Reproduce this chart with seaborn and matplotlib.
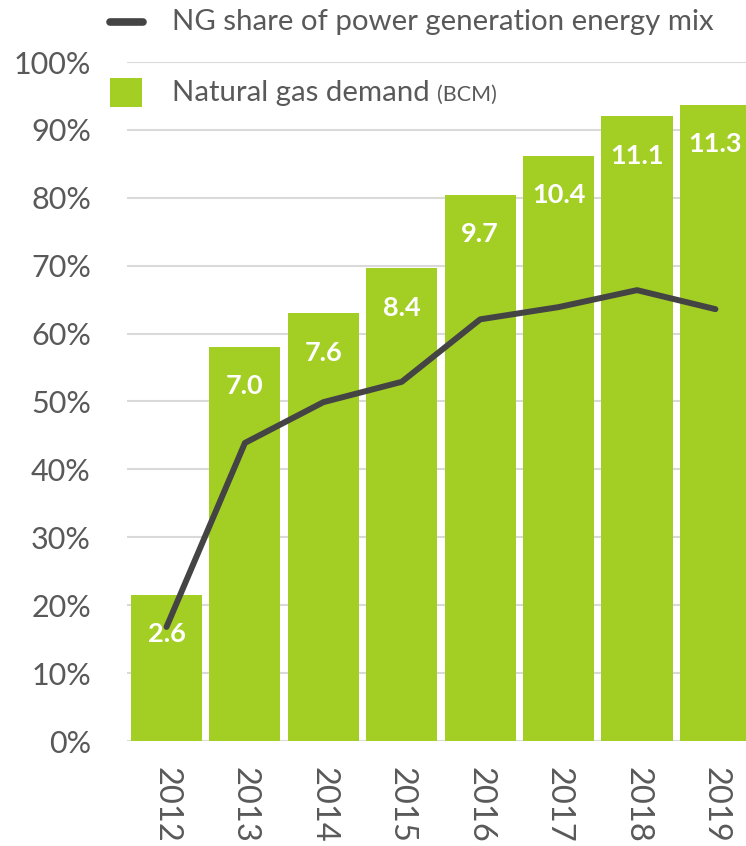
import matplotlib
matplotlib.use("Agg")
import matplotlib.pyplot as plt
import seaborn as sns
from matplotlib.lines import Line2D
from matplotlib.patches import Rectangle

# dados
years = ['2012', '2013', '2014', '2015', '2016', '2017', '2018', '2019']
gas_demand = [2.6, 7.0, 7.6, 8.4, 9.7, 10.4, 11.1, 11.3]        # BCM
ng_share = [16.8, 43.9, 49.9, 52.9, 62.1, 63.9, 66.4, 63.6]     # %
pct_ticks = [0, 10, 20, 30, 40, 50, 60, 70, 80, 90, 100]

GREEN = '#a3cf25'
DARK = '#444444'
GREY_TXT = '#595959'

sns.set_theme(style='white')
plt.rcParams['font.family'] = ['Lato', 'DejaVu Sans']

fig = plt.figure(figsize=(7.46, 8.46), dpi=100)
ax = fig.add_axes([127 / 746, 105 / 846, 619 / 746, 679 / 846])
ax2 = ax.twinx()   # barras (BCM)
ax3 = ax.twinx()   # linha (%), desenhada por cima

# barras
sns.barplot(x=years, y=gas_demand, ax=ax2, color=GREEN, saturation=1,
            width=0.906, linewidth=0)
ax2.set_ylim(0, 100 / 8.29)
ax2.bar_label(ax2.containers[0], fmt='%.1f', padding=-37, color='white',
              fontsize=19.5, fontweight='bold')

# linha
sns.lineplot(x=years, y=ng_share, ax=ax3, color=DARK, linewidth=4.3,
             solid_capstyle='round')
ax3.set_ylim(0, 100)

# eixo principal com percentuais
ax.set_ylim(0, 100)
ax.set_yticks(pct_ticks)
ax.set_yticklabels([f'{t}%' for t in pct_ticks])
ax.grid(axis='y', color='#d9d9d9', linewidth=1.5)
ax.grid(axis='x', visible=False)
ax.set_axisbelow(True)
ax.tick_params(axis='y', length=0, pad=26, labelsize=22, labelcolor=GREY_TXT)
ax.tick_params(axis='x', length=0, pad=19, labelsize=23.5, labelcolor=GREY_TXT,
               labelrotation=270)
ax.set_xlim(-0.504, 7.39)

for a in (ax, ax2, ax3):
    for s in a.spines.values():
        s.set_visible(False)
    a.set_xlabel('')
    a.set_ylabel('')
for a in (ax2, ax3):
    a.set_yticks([])

# legenda manual
fig.add_artist(Line2D([110 / 746, 143 / 746], [1 - 22 / 846, 1 - 22 / 846],
                      color=DARK, linewidth=5.5, solid_capstyle='round'))
fig.add_artist(Rectangle((110 / 746, 1 - 107 / 846), 32 / 746, 29 / 846,
                         color=GREEN, linewidth=0))
fig.text(172 / 746, 1 - 22 / 846, 'NG share of power generation energy mix',
         fontsize=21.2, va='center', color=GREY_TXT)
t = fig.text(172 / 746, 1 - 93 / 846, 'Natural gas demand',
             fontsize=21.2, va='center', color=GREY_TXT)
ax.annotate('(BCM)', xy=(1, 0), xycoords=t, xytext=(5, 1),
            textcoords='offset points', va='bottom', fontsize=15.5,
            color=GREY_TXT)

plt.savefig('out.png', dpi=100)
